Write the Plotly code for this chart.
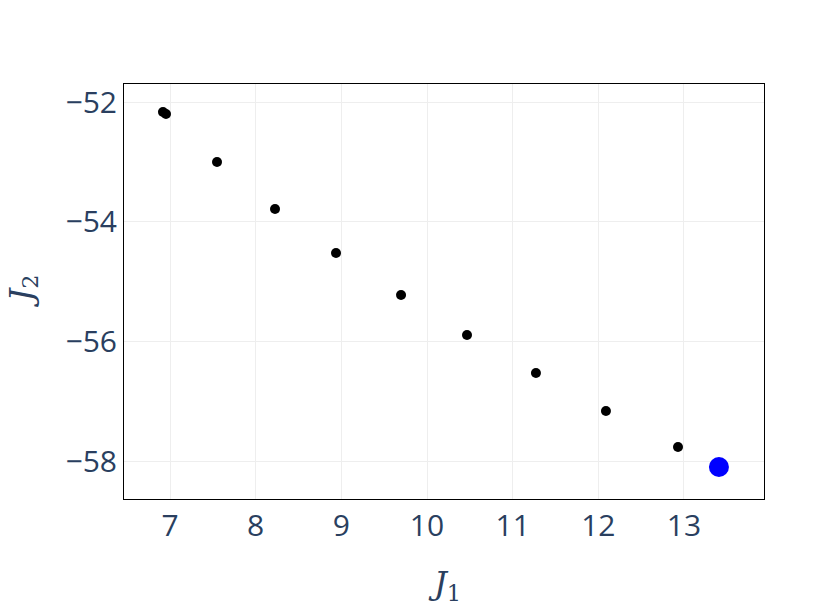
import plotly.graph_objects as go

j1 = [6.918, 6.953, 7.549, 8.226, 8.938, 9.697, 10.467, 11.272, 12.089, 12.93]
j2 = [-52.167, -52.2, -53.0, -53.783, -54.517, -55.217, -55.883, -56.517, -57.15, -57.75]
best_j1 = [13.408]
best_j2 = [-58.083]

fig = go.Figure()
fig.add_trace(go.Scatter(x=j1, y=j2, mode="markers",
                         marker=dict(color="black", size=10), showlegend=False))
fig.add_trace(go.Scatter(x=best_j1, y=best_j2, mode="markers",
                         marker=dict(color="blue", size=20), showlegend=False))

axis_common = dict(showline=True, linecolor="black", linewidth=1, mirror=True,
                   showgrid=True, gridcolor="#EEEEEE", zeroline=False,
                   automargin=False,
                   ticks="", tickfont=dict(size=30, color="#2a3f5f"))
title_font = dict(family="DejaVu Serif", size=32, color="#2a3f5f")
fig.update_layout(
    template="plotly_white",
    width=831, height=610,
    margin=dict(l=124, r=67, t=84, b=111),
    paper_bgcolor="white", plot_bgcolor="white",
    font=dict(family="Open Sans", color="#2a3f5f"),
    xaxis=dict(range=[6.463, 13.934], dtick=1, **axis_common),
    yaxis=dict(range=[-58.617, -51.7], dtick=2, **axis_common),
    annotations=[
        dict(text="<i>J</i><sub>1</sub>", xref="paper", yref="paper",
             x=0.5, y=0, xanchor="center", yanchor="middle",
             yshift=-86, showarrow=False, font=title_font),
        dict(text="<i>J</i><sub>2</sub>", xref="paper", yref="paper",
             x=0, y=0.5, xanchor="center", yanchor="middle", textangle=-90,
             xshift=-102, showarrow=False, font=title_font),
    ],
)
fig.write_html("out.html", config={"displayModeBar": False},
               post_script="document.body.style.margin='0';document.body.style.overflow='hidden';")
